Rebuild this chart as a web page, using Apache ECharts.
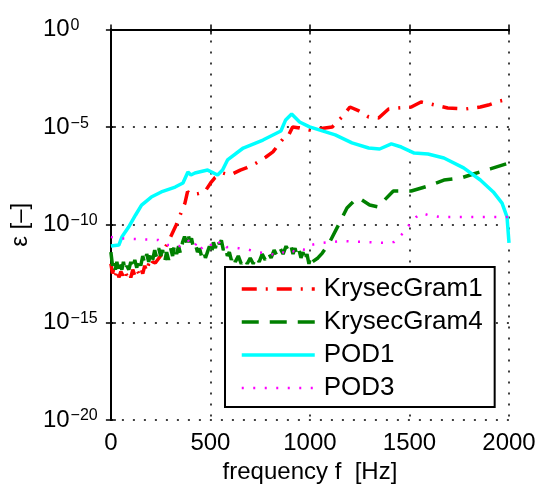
<!DOCTYPE html>
<html>
<head>
<meta charset="utf-8">
<script src="https://cdn.jsdelivr.net/npm/echarts@6/dist/echarts.min.js"></script>
<style>
  html, body { margin: 0; padding: 0; background: #fff; }
  #chart { width: 543px; height: 490px; }
</style>
</head>
<body>
<div id="chart"></div>
<script>
// values are log10(epsilon)
const seriesNames = ["KrysecGram1", "KrysecGram4", "POD1", "POD3"];
const xTicks = [0, 500, 1000, 1500, 2000];
const yTicks = [-20, -15, -10, -5, 0];

const krysecGram1 = [
  [0, -12.0], [8, -12.5], [16, -12.2], [24, -12.6], [32, -12.3], [40, -12.7], [50, -12.4],
  [60, -12.6], [70, -12.3], [80, -12.6], [90, -12.4], [100, -12.7], [110, -12.3], [120, -12.6],
  [130, -12.3], [140, -12.5], [150, -12.2], [160, -12.5], [170, -12.1], [180, -12.4], [190, -12.0],
  [200, -12.2], [210, -11.9], [223, -11.96], [253, -11.55], [288, -10.88], [328, -10.01],
  [372, -8.89], [385, -8.3], [400, -8.45], [440, -8.4], [471, -8.32], [501, -7.86], [521, -7.61],
  [561, -7.35], [600, -7.45], [650, -7.2], [680, -7.09], [730, -6.84], [779, -6.53], [814, -6.27],
  [864, -5.61], [888, -5.51], [913, -4.99], [948, -5.04], [998, -5.15], [1112, -4.99], [1161, -4.48],
  [1201, -3.97], [1246, -4.17], [1295, -4.48], [1345, -4.53], [1395, -4.07], [1444, -4.02],
  [1509, -3.97], [1558, -3.71], [1608, -3.82], [1692, -4.02], [1782, -4.07], [1856, -3.97],
  [1896, -3.87], [1955, -3.66], [2000, -3.56]
];

const krysecGram4 = [
  [0, -11.4], [8, -12.1], [15, -11.8], [22, -12.3], [30, -11.9], [38, -12.4], [46, -12.0],
  [55, -12.3], [63, -11.9], [72, -12.4], [80, -12.1], [90, -12.3], [100, -11.9], [110, -12.3],
  [120, -11.8], [130, -12.2], [140, -11.7], [150, -12.1], [160, -11.6], [170, -12.0], [180, -11.5],
  [190, -11.9], [200, -11.4], [210, -11.8], [220, -11.3], [230, -11.7], [240, -11.2], [250, -11.6],
  [260, -11.3], [270, -11.9], [280, -11.4], [290, -11.8], [300, -11.2], [310, -11.6], [320, -11.0],
  [330, -11.5], [340, -11.1], [350, -11.5], [360, -10.9], [370, -10.6], [380, -10.9], [388, -10.4],
  [395, -10.9], [405, -10.7], [415, -11.2], [425, -11.0], [435, -11.4], [445, -11.2], [455, -11.6],
  [465, -11.3], [475, -11.7], [485, -11.4], [495, -11.1], [505, -11.5], [515, -10.9], [525, -11.2],
  [535, -10.7], [545, -11.0], [555, -10.8], [565, -11.3], [575, -11.1], [585, -11.6], [595, -11.4],
  [605, -11.8], [615, -11.5], [625, -11.9], [640, -11.6], [655, -12.0], [670, -11.7], [685, -12.0],
  [700, -11.7], [715, -12.0], [730, -11.6], [745, -11.9], [760, -11.5], [775, -11.8], [790, -11.4],
  [805, -11.7], [820, -11.3], [835, -11.6], [850, -11.2], [865, -11.5], [880, -11.1], [895, -11.4],
  [905, -11.1], [915, -11.5], [925, -11.2], [935, -11.6], [945, -11.3], [955, -11.7], [965, -11.4],
  [975, -11.9], [985, -11.5], [995, -12.0], [1005, -11.6], [1012, -11.9], [1040, -11.7],
  [1062, -11.45], [1097, -10.93], [1146, -9.96], [1186, -9.14], [1211, -8.89], [1236, -8.63],
  [1261, -8.73], [1300, -8.99], [1345, -9.09], [1375, -8.73], [1419, -8.27], [1509, -8.27],
  [1593, -8.02], [1673, -7.71], [1757, -7.61], [1821, -7.4], [1906, -7.14], [2000, -6.84]
];

const pod1 = [
  [0, -11.09], [40, -11.04], [55, -10.63], [89, -10.12], [124, -9.5], [154, -8.99], [203, -8.58],
  [253, -8.32], [323, -8.07], [362, -7.86], [387, -7.3], [402, -7.45], [422, -7.35], [486, -7.2],
  [536, -7.45], [561, -7.2], [586, -6.68], [665, -6.07], [764, -5.66], [854, -5.2], [878, -4.63],
  [908, -4.33], [948, -4.74], [998, -4.99], [1127, -5.4], [1211, -5.81], [1295, -6.07],
  [1350, -6.12], [1409, -5.86], [1459, -6.02], [1524, -6.33], [1593, -6.38], [1673, -6.58],
  [1772, -7.09], [1856, -7.71], [1921, -8.32], [1965, -8.89], [1990, -9.6], [2000, -10.93]
];

const pod3 = [
  [0, -10.63], [40, -10.7], [124, -10.73], [238, -10.78], [288, -11.04], [347, -11.09],
  [370, -10.9], [387, -10.78], [400, -11.0], [417, -11.14], [430, -10.95], [447, -11.29],
  [465, -11.1], [486, -11.19], [505, -11.0], [520, -10.85], [536, -10.78], [550, -11.0],
  [566, -10.93], [580, -11.15], [600, -11.14], [640, -11.2], [680, -11.24], [730, -11.4],
  [779, -11.45], [829, -11.55], [860, -11.4], [878, -11.45], [900, -11.3], [928, -11.4],
  [950, -11.25], [978, -11.29], [1002, -11.04], [1062, -10.93], [1161, -10.83], [1261, -10.88],
  [1375, -10.93], [1424, -10.88], [1469, -10.42], [1499, -10.01], [1534, -9.6], [1560, -9.4],
  [1593, -9.5], [1650, -9.6], [1772, -9.6], [2000, -9.6]
];

const FONT = "'Liberation Sans', Arial, sans-serif";

const chart = echarts.init(document.getElementById("chart"), null, { renderer: "canvas" });

const dottedGrid = { show: true, lineStyle: { color: "#000", width: 1.5, type: [2, 9] } };
const frame = { show: true, lineStyle: { color: "#000", width: 2 } };
const inTicks = { show: true, inside: true, length: 5, lineStyle: { color: "#000", width: 1.5 } };

function expLabel(v) {
  const e = v === 0 ? "0" : "\u2212" + Math.abs(v);
  return "{b|10}{s|" + e + "}";
}

function lineSeries(name, data, color, width, type) {
  return {
    name, type: "line", data,
    symbol: "none", showSymbol: false, legendIcon: "none",
    lineStyle: { color, width, type },
    itemStyle: { color }
  };
}

chart.setOption({
  animation: false,
  backgroundColor: "#fff",
  grid: { left: 106, top: 29.5, right: 34, bottom: 70 },
  xAxis: [
    {
      type: "value", min: xTicks[0], max: xTicks[xTicks.length - 1], interval: 500,
      name: "frequency f  [Hz]", nameLocation: "middle", nameGap: 40,
      nameTextStyle: { fontSize: 24, color: "#000", fontFamily: FONT },
      axisLine: frame, axisTick: inTicks, splitLine: dottedGrid,
      axisLabel: { fontSize: 24, color: "#000", fontFamily: FONT, margin: 11, formatter: (v) => String(v) }
    },
    {
      type: "value", position: "top", min: 0, max: 2000, interval: 500,
      axisLine: frame, axisTick: inTicks, splitLine: { show: false }, axisLabel: { show: false }
    }
  ],
  yAxis: [
    {
      type: "value", min: yTicks[0], max: yTicks[yTicks.length - 1], interval: 5,
      name: "\u03b5 [\u2013]", nameLocation: "middle", nameGap: 76, nameRotate: 90,
      nameTextStyle: { fontSize: 24, color: "#000", fontFamily: FONT },
      axisLine: frame, axisTick: inTicks, splitLine: dottedGrid,
      axisLabel: {
        align: "left", margin: 68, color: "#000", fontFamily: FONT,
        formatter: expLabel,
        rich: {
          b: { fontSize: 24, fontFamily: FONT, color: "#000", lineHeight: 24, verticalAlign: "bottom" },
          s: { fontSize: 16, fontFamily: FONT, color: "#000", lineHeight: 18, verticalAlign: "top", padding: [0, 0, 12, 1] }
        }
      }
    },
    {
      type: "value", position: "right", min: -20, max: 0, interval: 5,
      axisLine: frame, axisTick: inTicks, splitLine: { show: false }, axisLabel: { show: false }
    }
  ],
  legend: {
    orient: "vertical", left: 225, top: 267,
    data: seriesNames,
    backgroundColor: "#fff", borderColor: "#000", borderWidth: 2,
    padding: [9, 12, 6, 15], itemGap: 7, itemWidth: 73, itemHeight: 26,
    itemStyle: { opacity: 0 },
    lineStyle: { width: "inherit" },
    textStyle: { fontSize: 26, color: "#000", fontFamily: FONT, lineHeight: 26, padding: [0, 0, 0, 4] }
  },
  series: [
    lineSeries(seriesNames[0], krysecGram1, "#ff0000", 3.5, [15, 9, 2, 9]),
    lineSeries(seriesNames[1], krysecGram4, "#008000", 3.5, [17, 11]),
    lineSeries(seriesNames[2], pod1, "#00ffff", 3.5, "solid"),
    lineSeries(seriesNames[3], pod3, "#ff00ff", 2.5, [2, 9.5])
  ]
});
</script>
</body>
</html>
